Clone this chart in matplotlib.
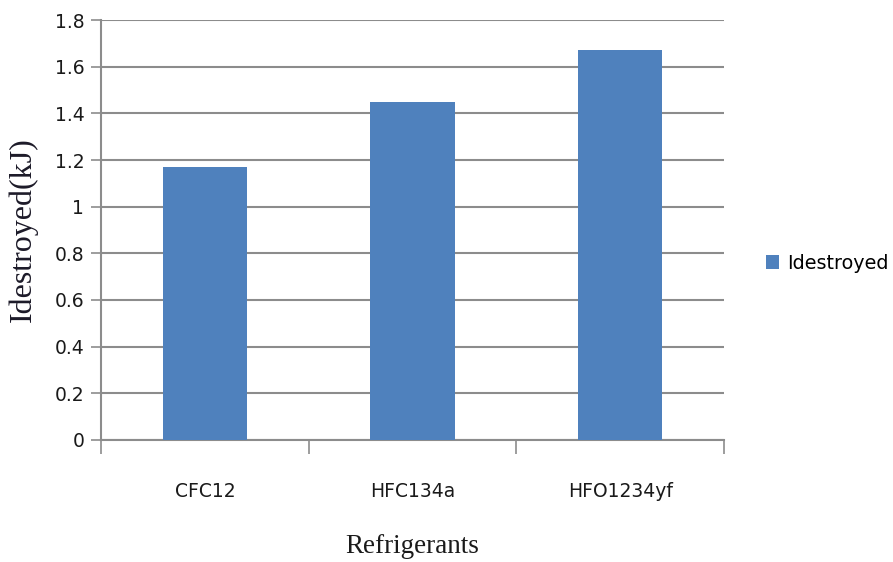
import matplotlib.pyplot as plt
from matplotlib.patches import Patch

refrigerants = ["CFC12", "HFC134a", "HFO1234yf"]
idestroyed = [1.17, 1.45, 1.67]
y_ticks = [0, 0.2, 0.4, 0.6, 0.8, 1, 1.2, 1.4, 1.6, 1.8]
y_tick_labels = ["0", "0.2", "0.4", "0.6", "0.8", "1", "1.2", "1.4", "1.6", "1.8"]

bar_color = "#4f81bd"
grid_color = "#8c8c8c"
text_color = "#1a1a1a"

fig = plt.figure(figsize=(8.93, 5.62), dpi=100)
ax = fig.add_axes([0.1131, 0.2171, 0.8108 - 0.1131, 0.9644 - 0.2171])

x = list(range(len(refrigerants)))
ax.bar(x, idestroyed, width=0.405, color=bar_color, zorder=3)

ax.set_xlim(-0.5, len(refrigerants) - 0.5)
ax.set_ylim(0, 1.8)
ax.set_yticks(y_ticks)
ax.set_yticklabels(y_tick_labels, family="DejaVu Sans", fontsize=13.5, color=text_color)
ax.yaxis.grid(True, color=grid_color, linewidth=1.5, zorder=0)

# category labels centered, tick marks between categories
ax.set_xticks(x)
ax.set_xticklabels(refrigerants, family="DejaVu Sans", fontsize=13.5, color=text_color)
ax.tick_params(axis="x", length=0, pad=30)
ax.set_xticks([i - 0.5 for i in range(len(refrigerants) + 1)], minor=True)
ax.tick_params(axis="x", which="minor", length=10, width=1.2, color=grid_color)
ax.tick_params(axis="y", length=7, width=1.2, color=grid_color, pad=5)

for side in ["top", "right"]:
    ax.spines[side].set_visible(False)
for side in ["left", "bottom"]:
    ax.spines[side].set_color(grid_color)
    ax.spines[side].set_linewidth(1.5)

ax.set_ylabel("Idestroyed(kJ)", family="Liberation Serif", fontsize=23,
              color="#1c1a28", labelpad=12)
ax.set_xlabel("Refrigerants", family="Liberation Serif", fontsize=19.5,
              color=text_color, labelpad=24)

handles = [Patch(facecolor=bar_color, label="Idestroyed")]
fig.legend(handles=handles, loc="center left", bbox_to_anchor=(0.838, 0.532),
           frameon=False, handlelength=0.7, handleheight=0.7, handletextpad=0.4,
           prop={"family": "DejaVu Sans", "size": 13.8})

fig.savefig("out.png", dpi=100)
